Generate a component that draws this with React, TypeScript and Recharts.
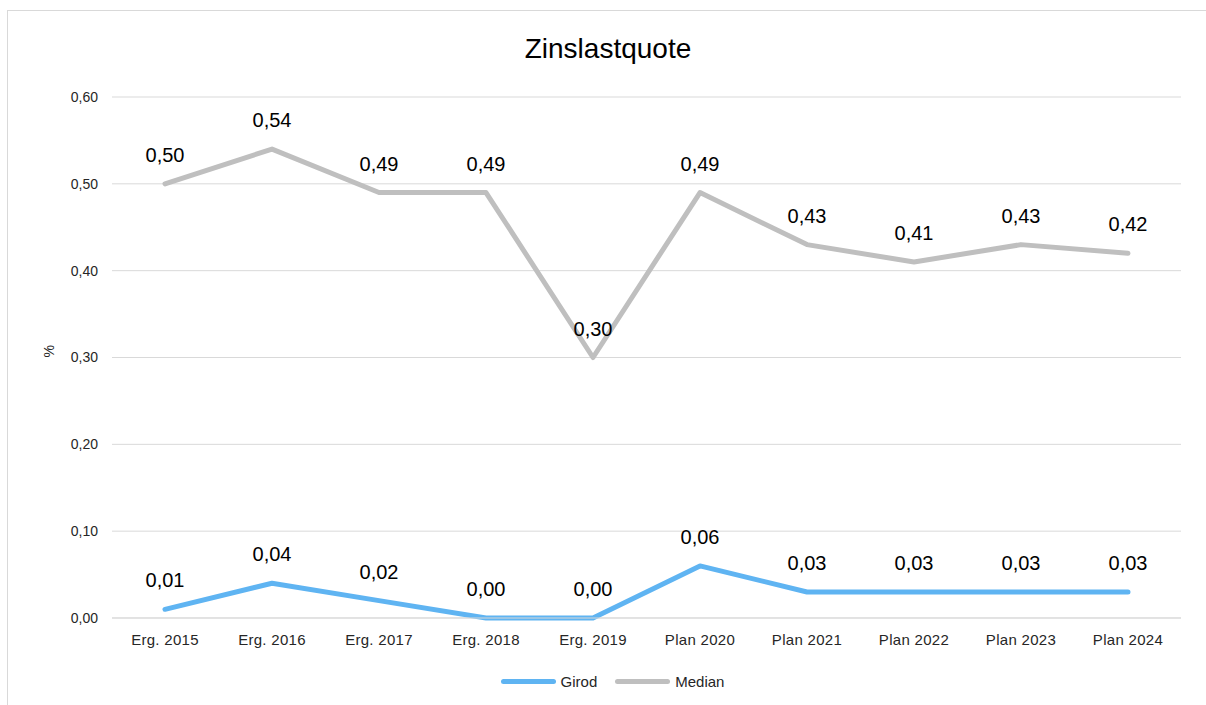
import React from "react";
import {
  LineChart,
  Line,
  XAxis,
  YAxis,
  CartesianGrid,
  Legend,
  LabelList,
} from "recharts";

// Kategorien und Werte
const categories = [
  "Erg. 2015",
  "Erg. 2016",
  "Erg. 2017",
  "Erg. 2018",
  "Erg. 2019",
  "Plan 2020",
  "Plan 2021",
  "Plan 2022",
  "Plan 2023",
  "Plan 2024",
];
const girod = [0.01, 0.04, 0.02, 0.0, 0.0, 0.06, 0.03, 0.03, 0.03, 0.03];
const median = [0.5, 0.54, 0.49, 0.49, 0.3, 0.49, 0.43, 0.41, 0.43, 0.42];
const yTicks = [0, 0.1, 0.2, 0.3, 0.4, 0.5, 0.6];

const chartData = categories.map((name, i) => ({
  name,
  Girod: girod[i],
  Median: median[i],
}));

const FONT = "'Liberation Sans', Arial, sans-serif";
const BLUE = "#5FB4F2";
const GRAY = "#BFBFBF";

const fmt = (v: number) => v.toFixed(2).replace(".", ",");

function LegendContent() {
  const items = [
    { name: "Girod", color: BLUE },
    { name: "Median", color: GRAY },
  ];
  return (
    <div
      style={{
        display: "flex",
        justifyContent: "center",
        alignItems: "center",
        height: 20,
        fontFamily: FONT,
        fontSize: 15,
        color: "#262626",
        paddingLeft: 44,
      }}
    >
      {items.map((it, i) => (
        <div
          key={it.name}
          style={{ display: "flex", alignItems: "center", marginRight: i === 0 ? 18 : 0 }}
        >
          <span
            style={{
              display: "inline-block",
              width: 55,
              height: 5,
              borderRadius: 3,
              background: it.color,
              marginRight: 5,
            }}
          />
          <span>{it.name}</span>
        </div>
      ))}
    </div>
  );
}

export default function App() {
  return (
    <div
      style={{
        position: "fixed",
        left: 0,
        top: 0,
        width: 1206,
        height: 705,
        overflow: "hidden",
        background: "#fff",
      }}
    >
      <div
        style={{
          position: "absolute",
          left: 7,
          top: 10,
          width: 1210,
          height: 710,
          border: "1.5px solid #d9d9d9",
        }}
      />
      <div
        style={{
          position: "absolute",
          left: 0,
          top: 33,
          width: 1216,
          textAlign: "center",
          fontFamily: FONT,
          fontSize: 28,
          color: "#000",
        }}
      >
        Zinslastquote
      </div>
      <div style={{ position: "absolute", left: 0, top: 0 }}>
        <LineChart
          width={1206}
          height={705}
          data={chartData}
          margin={{ top: 97, right: 25, left: 0, bottom: 14 }}
        >
          <CartesianGrid vertical={false} stroke="#d9d9d9" strokeWidth={1} />
          <XAxis
            dataKey="name"
            height={53}
            padding={{ left: 53, right: 53 }}
            tickLine={false}
            axisLine={{ stroke: "#d9d9d9" }}
            tick={{ fontSize: 15, fill: "#262626", fontFamily: FONT, letterSpacing: 0.3 }}
            tickMargin={10}
            interval={0}
          />
          <YAxis
            width={112}
            domain={[0, 0.6]}
            ticks={yTicks}
            tickFormatter={fmt}
            axisLine={false}
            tickLine={false}
            tickSize={0}
            tickMargin={14}
            tick={{ fontSize: 14, fill: "#262626", fontFamily: FONT }}
            label={{
              value: "%",
              angle: -90,
              position: "insideLeft",
              offset: 49,
              style: { fontSize: 14, fill: "#262626", fontFamily: FONT },
            }}
          />
          <Legend verticalAlign="bottom" content={<LegendContent />} />
          <Line
            dataKey="Girod"
            stroke={BLUE}
            strokeWidth={5}
            strokeLinecap="round"
            strokeLinejoin="round"
            dot={false}
            isAnimationActive={false}
          >
            <LabelList
              dataKey="Girod"
              position="top"
              offset={22}
              formatter={(v: any) => fmt(Number(v))}
              style={{ fontSize: 20, fill: "#000", fontFamily: FONT }}
            />
          </Line>
          <Line
            dataKey="Median"
            stroke={GRAY}
            strokeWidth={5}
            strokeLinecap="round"
            strokeLinejoin="round"
            dot={false}
            isAnimationActive={false}
          >
            <LabelList
              dataKey="Median"
              position="top"
              offset={22}
              formatter={(v: any) => fmt(Number(v))}
              style={{ fontSize: 20, fill: "#000", fontFamily: FONT }}
            />
          </Line>
        </LineChart>
      </div>
    </div>
  );
}
